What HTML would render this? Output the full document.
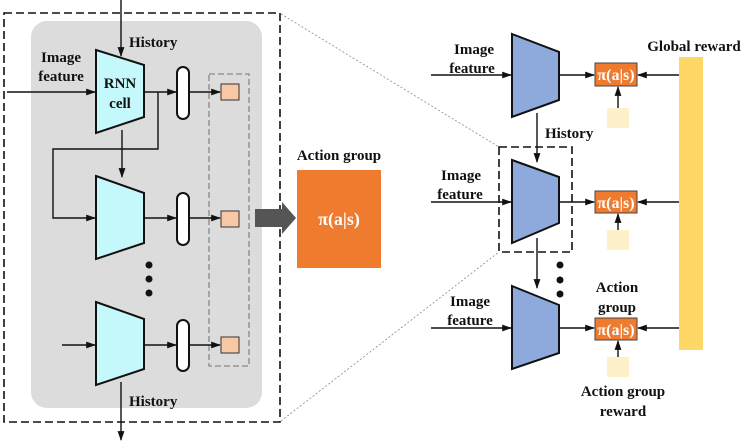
<!DOCTYPE html>
<html><head><meta charset="utf-8"><style>
body{margin:0;background:#fff}
svg{display:block}
text{font-family:"Liberation Serif",serif;font-weight:bold;font-size:15px;fill:#111}
text.w{fill:#fff;font-size:16px}
</style></head><body>
<svg width="748" height="442" viewBox="0 0 748 442" xmlns="http://www.w3.org/2000/svg">
<defs>
<marker id="a" viewBox="0 0 10 10" refX="9" refY="5" markerWidth="7" markerHeight="7" orient="auto"><path d="M0,1.5 L10,5 L0,8.5z" fill="#111"/></marker>
</defs>
<rect x="4" y="13" width="276" height="409" fill="none" stroke="#111" stroke-width="1.6" stroke-dasharray="8,4"/>
<rect x="31" y="21" width="231" height="387" rx="16" fill="#dcdcdc"/>
<rect x="209" y="74" width="40" height="292" fill="none" stroke="#888" stroke-width="1.3" stroke-dasharray="6,3"/>
<g fill="#c5f8fb" stroke="#111" stroke-width="2">
<path d="M96,50 L144,65 L144,117 L96,133z"/>
<path d="M96,176 L144,193 L144,243 L96,259z"/>
<path d="M96,302 L144,319 L144,369 L96,385z"/>
</g>
<g fill="#fff" stroke="#111" stroke-width="2">
<rect x="177" y="67" width="12" height="52" rx="6"/>
<rect x="177" y="193" width="12" height="52" rx="6"/>
<rect x="177" y="320" width="12" height="51" rx="6"/>
</g>
<g fill="#f8c8a4" stroke="#333" stroke-width="1">
<rect x="221" y="84" width="18" height="16"/>
<rect x="221" y="211" width="18" height="16"/>
<rect x="221" y="337" width="18" height="16"/>
</g>
<g stroke="#111" stroke-width="1.4" fill="none" marker-end="url(#a)">
<line x1="121" y1="0" x2="121" y2="56"/>
<line x1="7" y1="92" x2="95" y2="92"/>
<line x1="144" y1="92" x2="176" y2="92"/>
<line x1="189" y1="92" x2="220" y2="92"/>
<polyline points="158,92 158,149 53,149 53,218 95,218"/>
<line x1="122" y1="130" x2="122" y2="177"/>
<line x1="144" y1="218" x2="176" y2="218"/>
<line x1="189" y1="218" x2="220" y2="218"/>
<line x1="62" y1="345" x2="95" y2="345"/>
<line x1="144" y1="345" x2="176" y2="345"/>
<line x1="189" y1="345" x2="220" y2="345"/>
<line x1="121" y1="382" x2="121" y2="440"/>
</g>
<g fill="#111"><circle cx="149" cy="265" r="3.5"/><circle cx="149" cy="279" r="3.5"/><circle cx="149" cy="293" r="3.5"/></g>
<text x="129" y="47">History</text>
<text x="61" y="62" text-anchor="middle">Image</text>
<text x="61" y="81" text-anchor="middle">feature</text>
<text x="120" y="88" text-anchor="middle">RNN</text>
<text x="120" y="108" text-anchor="middle">cell</text>
<text x="129" y="406">History</text>
<path d="M255,209 L282,209 L282,202 L296,218 L282,234 L282,227 L255,227z" fill="#555"/>
<rect x="297" y="170" width="84" height="98" fill="#ef7b2f"/>
<text x="339" y="160" text-anchor="middle">Action group</text>
<text x="339" y="225" text-anchor="middle" class="w" style="font-size:18px">π(a|s)</text>
<g stroke="#888" stroke-width="0.8" stroke-dasharray="2,2">
<line x1="281" y1="14" x2="499" y2="147"/>
<line x1="281" y1="421" x2="499" y2="252"/>
</g>
<rect x="499" y="147" width="73" height="105" fill="none" stroke="#111" stroke-width="1.6" stroke-dasharray="8,4"/>
<rect x="679" y="57" width="24" height="293" fill="#fed766"/>
<g fill="#8eaadc" stroke="#111" stroke-width="2">
<path d="M512,34 L559,52 L559,100 L512,117z"/>
<path d="M512,160 L559,177 L559,223 L512,243z"/>
<path d="M512,286 L559,305 L559,353 L512,369z"/>
</g>
<g fill="#ef7b2f" stroke="#444" stroke-width="1">
<rect x="595" y="63" width="42" height="23"/>
<rect x="595" y="191" width="42" height="22"/>
<rect x="595" y="318" width="42" height="22"/>
</g>
<g fill="#fdf1cc">
<rect x="607" y="108" width="22" height="20"/>
<rect x="607" y="230" width="22" height="20"/>
<rect x="607" y="357" width="22" height="20"/>
</g>
<text x="616" y="80" text-anchor="middle" class="w">π(a|s)</text>
<text x="616" y="208" text-anchor="middle" class="w">π(a|s)</text>
<text x="616" y="335" text-anchor="middle" class="w">π(a|s)</text>
<g stroke="#111" stroke-width="1.4" fill="none" marker-end="url(#a)">
<line x1="431" y1="75" x2="511" y2="75"/>
<line x1="431" y1="202" x2="511" y2="202"/>
<line x1="431" y1="328" x2="511" y2="328"/>
<line x1="559" y1="75" x2="594" y2="75"/>
<line x1="559" y1="202" x2="594" y2="202"/>
<line x1="559" y1="328" x2="594" y2="328"/>
<line x1="679" y1="75" x2="638" y2="75"/>
<line x1="679" y1="202" x2="638" y2="202"/>
<line x1="679" y1="328" x2="638" y2="328"/>
<line x1="618" y1="108" x2="618" y2="87"/>
<line x1="618" y1="230" x2="618" y2="214"/>
<line x1="618" y1="357" x2="618" y2="341"/>
<line x1="537" y1="113" x2="537" y2="162"/>
<line x1="537" y1="238" x2="537" y2="288"/>
</g>
<g fill="#111"><circle cx="560" cy="265" r="3.5"/><circle cx="560" cy="280" r="3.5"/><circle cx="560" cy="294" r="3.5"/></g>
<text x="474" y="54" text-anchor="middle">Image</text>
<text x="472" y="73" text-anchor="middle">feature</text>
<text x="461" y="180" text-anchor="middle">Image</text>
<text x="460" y="199" text-anchor="middle">feature</text>
<text x="470" y="306" text-anchor="middle">Image</text>
<text x="470" y="325" text-anchor="middle">feature</text>
<text x="545" y="138">History</text>
<text x="694" y="51" text-anchor="middle">Global reward</text>
<text x="617" y="292" text-anchor="middle">Action</text>
<text x="617" y="312" text-anchor="middle">group</text>
<text x="623" y="396" text-anchor="middle">Action group</text>
<text x="623" y="416" text-anchor="middle">reward</text>
</svg>
</body></html>
